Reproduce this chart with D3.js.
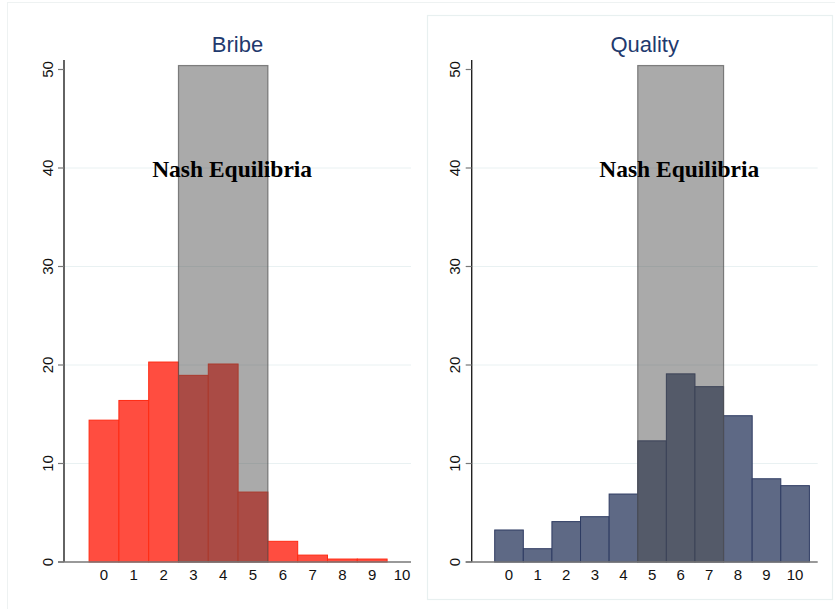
<!DOCTYPE html>
<html>
<head>
<meta charset="utf-8">
<script src="https://cdn.jsdelivr.net/npm/d3@7"></script>
<style>
  body { margin: 0; background: #fff; }
  svg { display: block; }
</style>
</head>
<body>
<script>
var width = 835,
    height = 609;

// values (percent)
var categories = [0, 1, 2, 3, 4, 5, 6, 7, 8, 9, 10];
var bribeValues = [14.4, 16.4, 20.3, 18.95, 20.1, 7.1, 2.1, 0.7, 0.3, 0.3, 0];
var qualityValues = [3.25, 1.35, 4.1, 4.6, 6.9, 12.3, 19.1, 17.8, 14.85, 8.45, 7.75];
var yTicks = [0, 10, 20, 30, 40, 50];
var gridTicks = [10, 20, 30, 40];
var bribeNash = [2.5, 5.5];
var qualityNash = [4.5, 7.5];
var nashTop = 50.4;
var nashLabel = "Nash Equilibria";

var svg = d3.select("body").append("svg")
    .attr("width", width)
    .attr("height", height);

// faint panel borders
svg.append("line").attr("x1", 7).attr("x2", width).attr("y1", 2.5).attr("y2", 2.5)
    .attr("stroke", "#eef2f2").attr("stroke-width", 1);
svg.append("line").attr("x1", 7.5).attr("x2", 7.5).attr("y1", 2).attr("y2", height)
    .attr("stroke", "#eef2f2").attr("stroke-width", 1);
svg.append("rect").attr("x", 427.5).attr("y", 15.5).attr("width", 405).attr("height", 584)
    .attr("fill", "none").attr("stroke", "#e8f0f0").attr("stroke-width", 1.2);

var y = d3.scaleLinear().domain([0, 50]).range([562, 69.5]);

function drawPanel(p) {
  var x = d3.scaleLinear().domain(p.domain).range(p.range);
  var g = svg.append("g");
  var x0 = p.range[0], x1 = p.range[1];

  // grid
  g.selectAll(".grid").data(gridTicks).enter().append("line")
      .attr("x1", x0).attr("x2", x1)
      .attr("y1", function (d) { return y(d); })
      .attr("y2", function (d) { return y(d); })
      .attr("stroke", "#e9f1f2").attr("stroke-width", 1);

  // bars
  var bars = categories.map(function (c, i) { return {c: c, v: p.values[i]}; })
      .filter(function (d) { return d.v > 0; });
  g.selectAll(".bar").data(bars).enter().append("rect")
      .attr("x", function (d) { return x(d.c - 0.5); })
      .attr("width", function (d) { return x(d.c + 0.5) - x(d.c - 0.5); })
      .attr("y", function (d) { return y(d.v); })
      .attr("height", function (d) { return y(0) - y(d.v); })
      .attr("fill", p.fill)
      .attr("stroke", p.stroke)
      .attr("stroke-width", 1);

  // nash equilibria band
  g.append("rect")
      .attr("x", x(p.nash[0]))
      .attr("width", x(p.nash[1]) - x(p.nash[0]))
      .attr("y", y(nashTop))
      .attr("height", y(0) - y(nashTop))
      .attr("fill", "#4a4a4a").attr("fill-opacity", 0.47)
      .attr("stroke", "#555").attr("stroke-opacity", 0.7).attr("stroke-width", 1.2);

  // y axis
  g.append("line").attr("x1", x0).attr("x2", x0).attr("y1", 60).attr("y2", y(0))
      .attr("stroke", "#222").attr("stroke-width", 1.4);
  g.selectAll(".ytick").data(yTicks).enter().append("line")
      .attr("x1", x0 - 6).attr("x2", x0)
      .attr("y1", function (d) { return y(d); })
      .attr("y2", function (d) { return y(d); })
      .attr("stroke", "#777").attr("stroke-width", 1.2);
  g.selectAll(".ylab").data(yTicks).enter().append("text")
      .attr("transform", function (d) { return "translate(" + (x0 - 11.5) + "," + y(d) + ") rotate(-90)"; })
      .attr("text-anchor", "middle")
      .attr("font-family", "Liberation Sans, Arial, sans-serif")
      .attr("font-size", 15)
      .attr("fill", "#111")
      .text(function (d) { return d; });

  // x axis
  g.append("line").attr("x1", x0 - 6).attr("x2", x1).attr("y1", y(0)).attr("y2", y(0))
      .attr("stroke", "#777").attr("stroke-width", 1.5);
  g.selectAll(".xlab").data(categories).enter().append("text")
      .attr("x", function (d) { return x(d); })
      .attr("y", 580)
      .attr("text-anchor", "middle")
      .attr("font-family", "Liberation Sans, Arial, sans-serif")
      .attr("font-size", 15)
      .attr("fill", "#111")
      .text(function (d) { return d; });

  // title
  g.append("text")
      .attr("x", (x0 + x1) / 2)
      .attr("y", 52)
      .attr("text-anchor", "middle")
      .attr("font-family", "Liberation Sans, Arial, sans-serif")
      .attr("font-size", 22)
      .attr("fill", "#1f3a6e")
      .text(p.title);

  // annotation
  g.append("text")
      .attr("x", x(p.labelX))
      .attr("y", y(40) + 9)
      .attr("text-anchor", "middle")
      .attr("font-family", "Liberation Serif, Times New Roman, serif")
      .attr("font-weight", "bold")
      .attr("font-size", 23.5)
      .attr("fill", "#000")
      .text(nashLabel);
}

drawPanel({
  title: "Bribe",
  values: bribeValues,
  domain: [-1.342, 10.302],
  range: [64, 411],
  fill: "#ff4d40",
  stroke: "#ff2a12",
  nash: bribeNash,
  labelX: 4.3
});

drawPanel({
  title: "Quality",
  values: qualityValues,
  domain: [-1.304, 10.79],
  range: [471.7, 817.7],
  fill: "#5e6985",
  stroke: "#2e3b62",
  nash: qualityNash,
  labelX: 5.95
});
</script>
</body>
</html>
